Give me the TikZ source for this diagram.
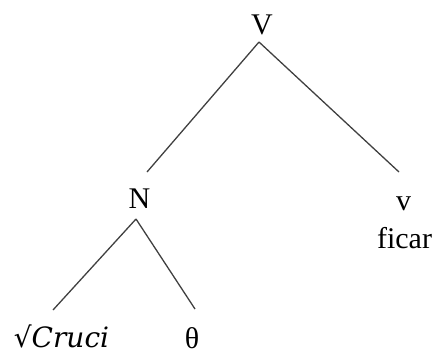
\documentclass[tikz,border=0pt]{standalone}
\usepackage{fontspec}
\setmainfont{Liberation Serif}
\newfontfamily\rootfont{DejaVu Serif}
\usepackage{tikz}
\usetikzlibrary{calc,positioning}

\begin{document}
\begin{tikzpicture}[x=1pt,y=-1pt,
    lbl/.style={anchor=base,inner sep=0pt,font=\fontsize{30}{34}\selectfont},
    edge/.style={line width=1.3pt,color=black!75}]
  \useasboundingbox (0,0) rectangle (435,354);
  % labels, placed on their baselines
  \node[lbl] (V) at (262,34) {V};
  \node[lbl] (N) at (139.5,208) {N};
  \node[lbl] (v) at (403.5,210) {v};
  \node[lbl] (ficar) at (404.5,248) {ficar};
  \node[lbl] (root) at (61.5,347) {{\rootfont\fontsize{28}{32}\selectfont\itshape √Cruci}};
  \node[lbl] (theta) at (192,348) {θ};
  % branches
  \draw[edge] ($(V.base)+(-3,8)$) -- ($(N.base)+(7.5,-36)$);
  \draw[edge] ($(V.base)+(-3,8)$) -- ($(v.base)+(-4.5,-38)$);
  \draw[edge] ($(N.base)+(-3.5,11)$) -- ($(root.base)+(-8.5,-37)$);
  \draw[edge] ($(N.base)+(-3.5,11)$) -- ($(theta.base)+(3,-39)$);
\end{tikzpicture}
\end{document}
